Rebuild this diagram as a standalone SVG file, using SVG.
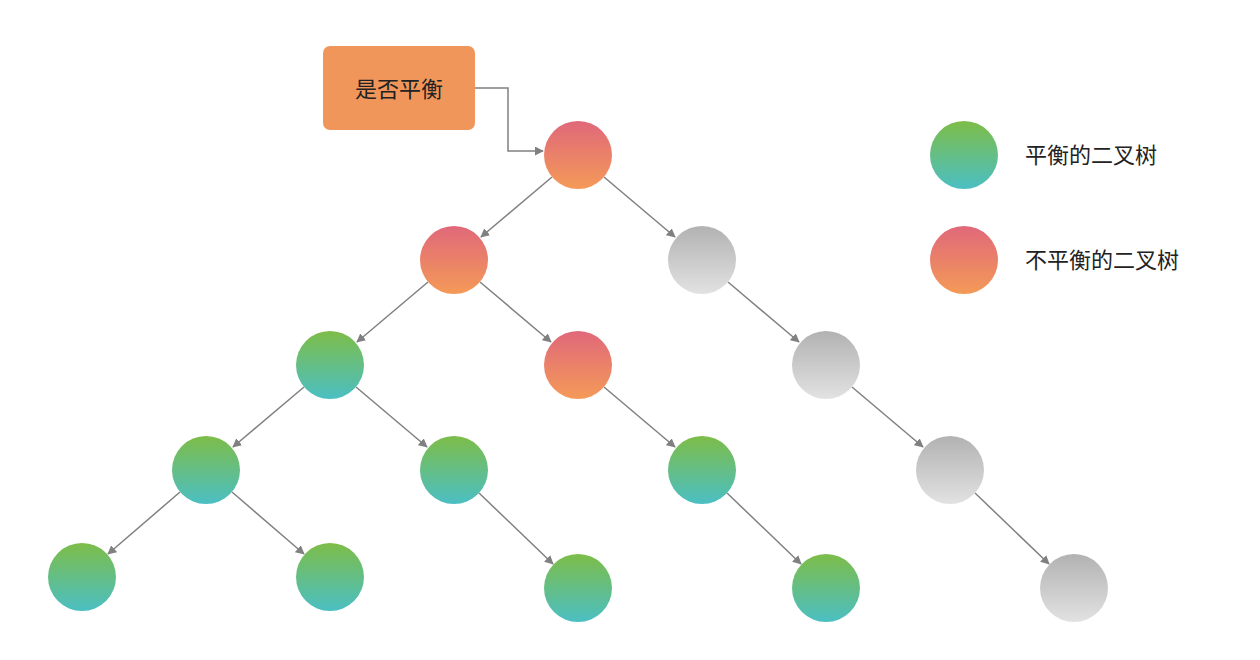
<svg xmlns="http://www.w3.org/2000/svg" width="1260" height="660" viewBox="0 0 1260 660">
<defs>
<linearGradient id="g" x1="0" y1="0" x2="0" y2="1"><stop offset="0" stop-color="#7DBD48"/><stop offset="1" stop-color="#4BBFC3"/></linearGradient>
<linearGradient id="r" x1="0" y1="0" x2="0" y2="1"><stop offset="0" stop-color="#E0687A"/><stop offset="1" stop-color="#F49A58"/></linearGradient>
<linearGradient id="y" x1="0" y1="0" x2="0" y2="1"><stop offset="0" stop-color="#B2B2B2"/><stop offset="1" stop-color="#E2E2E2"/></linearGradient>
<marker id="a" viewBox="0 0 10 10" refX="9" refY="5" markerWidth="9" markerHeight="9" markerUnits="userSpaceOnUse" orient="auto"><path d="M0,0L10,5L0,10z" fill="#808080"/></marker>
<style>.e{stroke:#808080;stroke-width:1.5;fill:none;marker-end:url(#a)}.t{font-family:"Noto Sans CJK SC",sans-serif;font-size:22px;fill:#222}</style>
</defs>
<rect width="1260" height="660" fill="#fff"/>
<g id="box"><rect x="323" y="46" width="152" height="84" rx="7" fill="#F0965A"/><text class="t" x="399" y="97" text-anchor="middle">是否平衡</text></g>
<g id="connectors">
<path class="e" d="M475,88H508V151H543"/>
<path class="e" d="M552,177L481,237"/><path class="e" d="M604,177L675,237"/>
<path class="e" d="M428,282L357,342"/><path class="e" d="M480,282L551,342"/><path class="e" d="M728,282L799,342"/>
<path class="e" d="M304,387L233,447"/><path class="e" d="M356,387L427,447"/><path class="e" d="M604,387L675,447"/><path class="e" d="M852,387L923,447"/>
<path class="e" d="M180,492L108,554"/><path class="e" d="M232,492L304,554"/><path class="e" d="M479,493L553,564"/><path class="e" d="M727,493L801,564"/><path class="e" d="M975,493L1049,564"/>
</g>
<g id="n0"><circle cx="578" cy="155" r="34" fill="url(#r)"/></g>
<g id="n1"><circle cx="454" cy="260" r="34" fill="url(#r)"/></g>
<g id="n2"><circle cx="702" cy="260" r="34" fill="url(#y)"/></g>
<g id="n3"><circle cx="330" cy="365" r="34" fill="url(#g)"/></g>
<g id="n4"><circle cx="578" cy="365" r="34" fill="url(#r)"/></g>
<g id="n5"><circle cx="826" cy="365" r="34" fill="url(#y)"/></g>
<g id="n6"><circle cx="206" cy="470" r="34" fill="url(#g)"/></g>
<g id="n7"><circle cx="454" cy="470" r="34" fill="url(#g)"/></g>
<g id="n8"><circle cx="702" cy="470" r="34" fill="url(#g)"/></g>
<g id="n9"><circle cx="950" cy="470" r="34" fill="url(#y)"/></g>
<g id="n10"><circle cx="82" cy="577" r="34" fill="url(#g)"/></g>
<g id="n11"><circle cx="330" cy="577" r="34" fill="url(#g)"/></g>
<g id="n12"><circle cx="578" cy="588" r="34" fill="url(#g)"/></g>
<g id="n13"><circle cx="826" cy="588" r="34" fill="url(#g)"/></g>
<g id="n14"><circle cx="1074" cy="588" r="34" fill="url(#y)"/></g>
<g id="legend-balanced"><circle cx="964" cy="155" r="34" fill="url(#g)"/><text class="t" x="1025" y="163">平衡的二叉树</text></g>
<g id="legend-unbalanced"><circle cx="964" cy="260" r="34" fill="url(#r)"/><text class="t" x="1025" y="268">不平衡的二叉树</text></g>
</svg>
